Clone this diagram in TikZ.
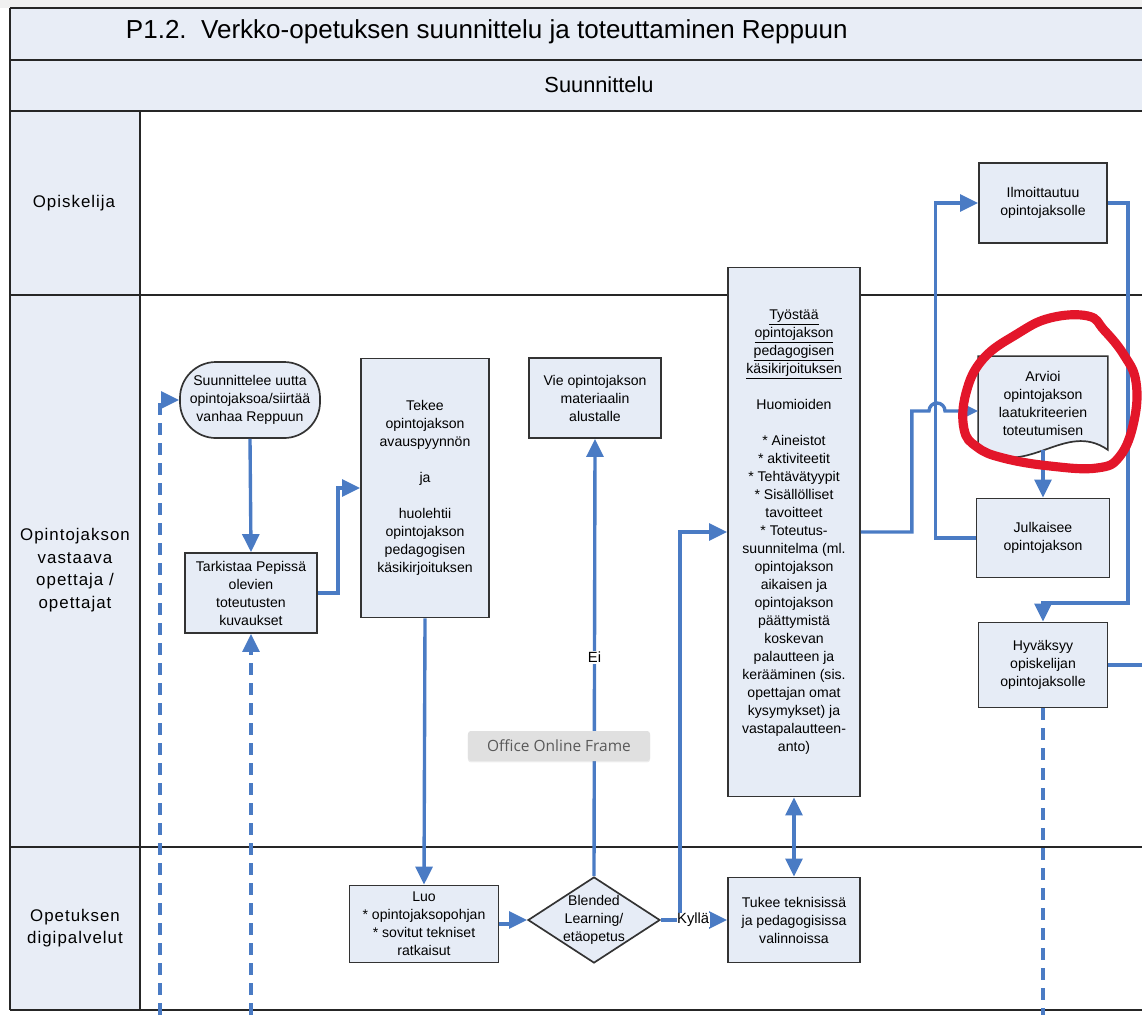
\documentclass[tikz,border=0pt]{standalone}
\usepackage{fontspec}
\setmainfont{Liberation Sans}
\newfontfamily\lanefont[LetterSpace=6]{Liberation Sans}
\newfontfamily\uifont{Open Sans}
\usetikzlibrary{positioning, arrows.meta, shapes.geometric, shadows, backgrounds}
\definecolor{flowblue}{HTML}{4A7BC4}
\definecolor{boxfill}{HTML}{E6ECF6}
\definecolor{lanefill}{HTML}{E8EDF6}
\definecolor{markred}{HTML}{E3162A}
\tikzset{
    stepbox/.style={
        rectangle,
        draw=black!80, % box border
        fill=boxfill,
        line width=1.2pt,
        minimum width=3.3cm,
        minimum height=2cm,
        inner sep=0,
        align=center,
        font=\fontsize{10}{12.8}\selectfont
    },
    startbox/.style={
        stepbox,
        rounded corners=0.9cm, % terminator ends
        minimum width=3.5cm,
        minimum height=1.9cm
    },
    decision/.style={
        diamond,
        draw=black!80,
        fill=boxfill,
        line width=1.2pt,
        minimum width=3.3cm,
        minimum height=2.15cm,
        inner sep=0
    },
    lanetext/.style={
        align=center,
        inner sep=0,
        font=\lanefont\fontsize{12}{16}\selectfont
    },
    flow/.style={
        draw=flowblue,
        line width=2.4pt,
        -{Triangle[length=0.45cm, width=0.42cm]}
    },
    flowline/.style={draw=flowblue, line width=2.4pt},
    dashflow/.style={flow, dash pattern=on 0.3cm off 0.2cm},
    dashline/.style={flowline, dash pattern=on 0.3cm off 0.2cm},
    flowlabel/.style={fill=white, inner sep=1pt, font=\fontsize{10.5}{12}\selectfont},
    laneline/.style={draw=black!85, line width=0.9pt}
}

\begin{document}
\begin{tikzpicture}[x=0.025cm, y=-0.025cm]
    \useasboundingbox (0,0) rectangle (1142,1015);
    % swimlanes
    \fill[black!6] (0,0) rectangle (1142,8);
    \fill[lanefill] (10,8) rectangle (1142,111);
    \fill[lanefill] (10,111) rectangle (140,1010);
    \foreach \y in {8,60,111,295,847,1010}
        \draw[laneline] (10,\y) -- (1142,\y);
    \draw[laneline] (10,8) -- (10,1010);
    \draw[laneline] (140,111) -- (140,1010);

    \node[anchor=west, font=\fontsize{18.5}{22}\selectfont] (title) at (121,32)
        {P1.2.\ \ Verkko-opetuksen suunnittelu ja toteuttaminen Reppuun};
    \node[font=\fontsize{15.5}{18}\selectfont] (phase) at (599,85) {Suunnittelu};
    \node[lanetext] (lane1) at (74,203) {Opiskelija};
    \node[lanetext] (lane2) at (75,570) {Opintojakson\\vastaava\\opettaja /\\opettajat};
    \node[lanetext] (lane3) at (75,928) {Opetuksen\\digipalvelut};

    % vaiheet
    \node[startbox] (suunn) at (250,400) {Suunnittelee uutta\\opintojaksoa/siirtää\\vanhaa Reppuun};
    \node[stepbox] (tark) at (251,593) {Tarkistaa Pepissä\\olevien\\toteutusten\\kuvaukset};
    \node[stepbox, minimum width=3.2cm, minimum height=6.475cm] (tekee) at (425,488)
        {Tekee\\opintojakson\\avauspyynnön\\[12.8pt]ja\\[12.8pt]huolehtii\\opintojakson\\pedagogisen\\käsikirjoituksen};
    \node[stepbox] (vie) at (595,398) {Vie opintojakson\\materiaalin\\alustalle};
    \node[stepbox, minimum height=13.225cm] (tyosta) at (794,532)
        {\underline{Työstää}\\\underline{opintojakson}\\\underline{pedagogisen}\\\underline{käsikirjoituksen}\\[12.8pt]
         Huomioiden\\[12.8pt]
         * Aineistot\\* aktiviteetit\\* Tehtävätyypit\\* Sisällölliset\\tavoitteet\\* Toteutus-\\suunnitelma (ml.\\
         opintojakson\\aikaisen ja\\opintojakson\\päättymistä\\koskevan\\palautteen ja\\kerääminen (sis.\\
         opettajan omat\\kysymykset) ja\\vastapalautteen-\\anto)};
    \node[stepbox, minimum width=3.2cm] (ilmo) at (1043,203) {Ilmoittautuu\\opintojaksolle};
    \node[stepbox, draw=none, fill=none, minimum width=3.2cm, minimum height=2.3cm] (arvioi) at (1043,403)
        {Arvioi\\opintojakson\\laatukriteerien\\toteutumisen};
    \begin{scope}[on background layer]
        \filldraw[draw=black!80, fill=boxfill, line width=1.2pt]
            (arvioi.south west) -- (arvioi.north west) -- (arvioi.north east) -- (arvioi.south east)
            .. controls (1065,420) and (1030,478) .. (arvioi.south west) -- cycle;
    \end{scope}
    \node[stepbox, minimum width=3.325cm, minimum height=1.975cm] (jul) at (1043,538) {Julkaisee\\opintojakson};
    \node[stepbox, minimum width=3.225cm, minimum height=2.125cm] (hyv) at (1043,665) {Hyväksyy\\opiskelijan\\opintojaksolle};
    \node[stepbox, minimum width=3.725cm, minimum height=1.925cm] (luo) at (424,924)
        {Luo\\* opintojaksopohjan\\* sovitut tekniset\\ratkaisut};
    \node[decision] (blend) at (594,920) {};
    \node[align=center, inner sep=0, font=\fontsize{10}{12.8}\selectfont] (blendtxt) at (blend) {Blended\\Learning/\\etäopetus};
    \node[stepbox, minimum height=2.125cm] (tukee) at (794,920) {Tukee teknisissä\\ja pedagogisissa\\valinnoissa};

    % yhteydet
    \draw[flow] (suunn.south) -- (tark.north);
    \draw[flow] (tark.east) -- ++(20,0) |- (tekee.west);
    \draw[flow] (tekee.south) -- (luo.north);
    \draw[flow] (luo.east) -- ++(12,0) |- (blend.west);
    \draw[flow] (blend.north) -- node[flowlabel] {Ei} (vie.south);
    \coordinate (kyl) at (680,920);
    \draw[flow] (blend.east) -- (kyl) |- (tyosta.west);
    \draw[flow] (kyl) -- node[flowlabel, inner sep=0.3pt, pos=0.28] {Kyllä} (tukee.west);
    \draw[flow, {Triangle[length=0.45cm, width=0.42cm]}-{Triangle[length=0.45cm, width=0.42cm]}] (tyosta.south) -- (tukee.north);
    \coordinate (hop) at (929,411);
    \draw[flow] (tyosta.east) -- ++(51,0) |- (hop) arc[start angle=180, end angle=0, radius=0.2cm] -- (arvioi.west |- hop);
    \draw[flow] (arvioi.south) -- (jul.north);
    \draw[flow] (jul.west) -- ++(-40,0) |- (ilmo.west);
    \coordinate (turn) at (1128,603);
    \draw[flow] (ilmo.east) -| (turn) -| (hyv.north);
    \coordinate (hyvout) at (1142,665);
    \draw[flowline] (hyv.east) -- (hyvout);
    \coordinate (hyvdown) at (1043,1015);
    \draw[dashline] (hyv.south) -- (hyvdown);
    \coordinate (dasha) at (160,1015);
    \draw[dashflow] (dasha) |- (suunn.west);
    \coordinate (dashb) at (251,1015);
    \draw[dashflow] (dashb) -- (tark.south);

    % punainen merkintä
    \draw[markred, line width=6.5pt, line cap=round] plot[smooth cycle, tension=0.7] coordinates
        {(1088,316) (1050,318) (1017,334) (983,359) (966,393) (964,429) (977,447) (1003,458)
         (1050,466) (1097,468) (1120,456) (1134,421) (1136,382) (1124,355) (1104,330)};

    \node[fill=black!12, text=black!65, rounded corners=2pt, minimum width=4.55cm, minimum height=0.75cm,
          drop shadow={opacity=0.15, shadow xshift=0pt, shadow yshift=-1pt},
          font=\uifont\fontsize{11}{13}\selectfont] (tip) at (559,746) {Office Online Frame};
\end{tikzpicture}
\end{document}
